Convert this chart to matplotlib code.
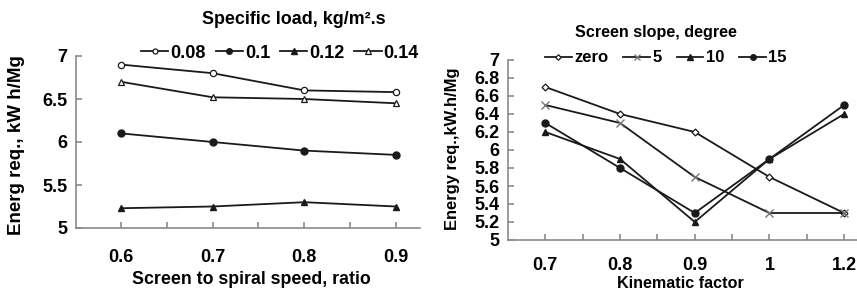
import matplotlib
matplotlib.use("Agg")
import matplotlib.pyplot as plt
from matplotlib.ticker import FixedLocator

# ---- data: left panel ----
speed_ratio = [0.6, 0.7, 0.8, 0.9]
load_labels = ["0.08", "0.1", "0.12", "0.14"]
load_008 = [6.9, 6.8, 6.6, 6.58]
load_010 = [6.1, 6.0, 5.9, 5.85]
load_012 = [5.23, 5.25, 5.3, 5.25]
load_014 = [6.7, 6.52, 6.5, 6.45]

# ---- data: right panel ----
kin_factor = ["0.7", "0.8", "0.9", "1", "1.2"]
slope_labels = ["zero", "5", "10", "15"]
slope_0 = [6.7, 6.4, 6.2, 5.7, 5.3]
slope_5 = [6.5, 6.3, 5.7, 5.3, 5.3]
slope_10 = [6.2, 5.9, 5.2, 5.9, 6.4]
slope_15 = [6.3, 5.8, 5.3, 5.9, 6.5]

plt.rcParams['font.family'] = ['Liberation Sans', 'DejaVu Sans']
plt.rcParams['font.weight'] = 'bold'

W, H = 857, 291
fig = plt.figure(figsize=(W / 100, H / 100), dpi=100)
renderer = fig.canvas.get_renderer()

axc = '#8a8a8a'
lc = '#1a1a1a'

def px_axes(x0, x1, y_top, y_bot):
    return fig.add_axes([x0 / W, 1 - y_bot / H, (x1 - x0) / W, (y_bot - y_top) / H])

def style(ax):
    for s in ['top', 'right']:
        ax.spines[s].set_visible(False)
    for s in ['left', 'bottom']:
        ax.spines[s].set_color(axc)
        ax.spines[s].set_linewidth(1.2)
    ax.tick_params(which='both', direction='in', color=axc, width=1.2)
    ax.tick_params(which='major', length=4)
    ax.tick_params(which='minor', length=4)

def fit_text(x, y, s, length_px, rotation=0, size=13):
    t = fig.text(x / W, 1 - y / H, s, ha='center', va='center', rotation=0,
                 fontsize=size, fontweight='bold')
    cur = t.get_window_extent(renderer).width
    t.set_fontsize(size * length_px / cur)
    t.set_rotation(rotation)
    return t

common = dict(color=lc, lw=1.3)

# ---- left axes ----
ax1 = px_axes(76, 420, 56, 228)
style(ax1)
ax1.plot(speed_ratio, load_008, marker='o', ms=4.5, mfc='white', mec=lc, mew=0.9, label=load_labels[0], **common)
ax1.plot(speed_ratio, load_010, marker='o', ms=5, mfc=lc, mec=lc, label=load_labels[1], **common)
ax1.plot(speed_ratio, load_012, marker='^', ms=5, mfc=lc, mec=lc, label=load_labels[2], **common)
ax1.plot(speed_ratio, load_014, marker='^', ms=5, mfc='white', mec=lc, mew=0.9, label=load_labels[3], **common)
ax1.set_xlim(0.5509, 0.9262)
ax1.set_ylim(5, 7)
ax1.set_xticks(speed_ratio)
ax1.set_xticklabels([str(v) for v in speed_ratio])
ax1.xaxis.set_minor_locator(FixedLocator([0.65, 0.75, 0.85]))
ax1.set_yticks([5, 5.5, 6, 6.5, 7])
ax1.set_yticklabels(["5", "5.5", "6", "6.5", "7"])
ax1.tick_params(axis='both', labelsize=13, pad=6)
ax1.tick_params(axis='x', pad=15)
for t in ax1.get_xticklabels() + ax1.get_yticklabels():
    t.set_fontweight('bold')
ax1.legend(loc='center', bbox_to_anchor=(280 / W, 1 - 53 / H), bbox_transform=fig.transFigure,
           ncol=4, frameon=False, handlelength=1.5, handletextpad=0.12, columnspacing=0.55,
           markerscale=0.8, borderpad=0, prop={'weight': 'bold', 'size': 13})
fit_text(294, 20, "Specific load, kg/m².s", 182)
fit_text(251, 280, "Screen to spiral speed, ratio", 237)
fit_text(17, 145, "Energ req., kW h/Mg", 180, rotation=90)

# ---- right axes ----
ax2 = px_axes(508, 881.5, 60, 240)
style(ax2)
xi = list(range(len(kin_factor)))
ax2.plot(xi, slope_0, marker='D', ms=3.5, mfc='white', mec=lc, mew=0.9, label=slope_labels[0], **common)
ax2.plot(xi, slope_5, marker='x', ms=5.5, mfc='none', mec='#777777', mew=1.0, label=slope_labels[1], **common)
ax2.plot(xi, slope_10, marker='^', ms=5, mfc=lc, mec=lc, label=slope_labels[2], **common)
ax2.plot(xi, slope_15, marker='o', ms=5, mfc=lc, mec=lc, label=slope_labels[3], **common)
ax2.set_xlim(-0.5, 4.5)
ax2.set_ylim(5, 7)
ax2.set_xticks(xi)
ax2.set_xticklabels(kin_factor)
ax2.xaxis.set_minor_locator(FixedLocator([0.5, 1.5, 2.5, 3.5]))
yt = [5 + 0.2 * i for i in range(11)]
ax2.set_yticks(yt)
ax2.set_yticklabels(["5", "5.2", "5.4", "5.6", "5.8", "6", "6.2", "6.4", "6.6", "6.8", "7"])
ax2.tick_params(axis='both', labelsize=13, pad=6)
ax2.tick_params(axis='x', pad=12)
for t in ax2.get_xticklabels() + ax2.get_yticklabels():
    t.set_fontweight('bold')
ax2.legend(loc='center', bbox_to_anchor=(666 / W, 1 - 58 / H), bbox_transform=fig.transFigure,
           ncol=4, frameon=False, handlelength=1.6, handletextpad=0.15, columnspacing=0.9,
           markerscale=0.8, borderpad=0, prop={'weight': 'bold', 'size': 12})
fit_text(656, 33, "Screen slope, degree", 162)
fit_text(680, 284, "Kinematic factor", 126)
fit_text(452, 149, "Energy req.,kW.h/Mg", 162, rotation=90)

fig.savefig("out.png", dpi=100)
